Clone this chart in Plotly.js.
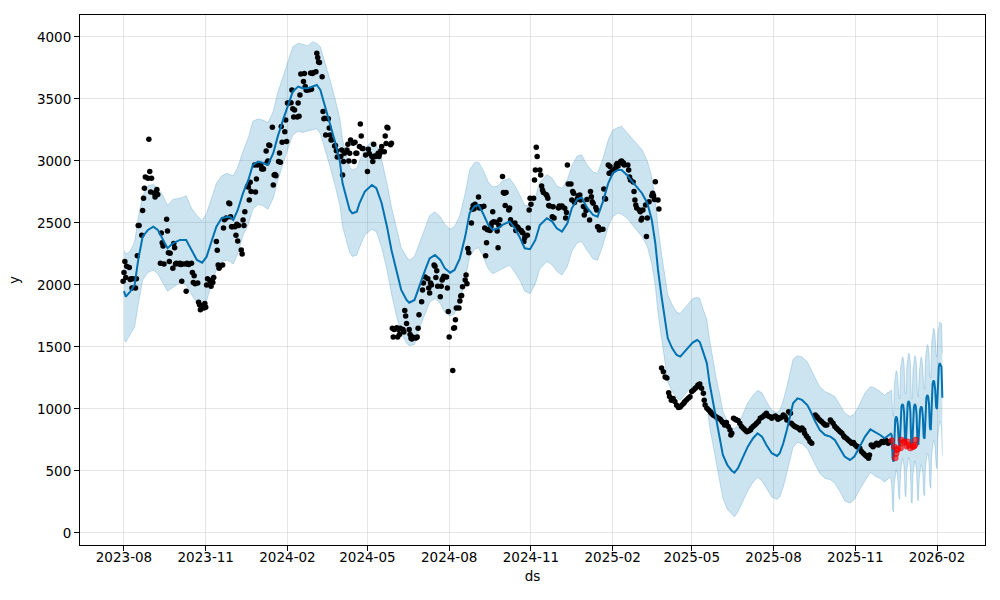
<!DOCTYPE html>
<html>
<head>
<meta charset="utf-8">
<script src="https://cdn.plot.ly/plotly-3.0.1.min.js"></script>
<style>html,body{margin:0;padding:0;background:#fff;}#chart{width:1000px;height:600px;}</style>
</head>
<body>
<div id="chart"></div>
<script>
// Observed history (black dots): [date, y]
const observed = [
["2023-07-31",2030],
["2023-08-01",2100],["2023-08-02",2190],["2023-08-03",2060],["2023-08-04",2150],["2023-08-07",2140],["2023-08-08",2045],["2023-08-09",2050],["2023-08-10",1975],["2023-08-11",2050],["2023-08-14",1975],["2023-08-15",2050],["2023-08-16",2235],["2023-08-17",2480],["2023-08-18",2480],["2023-08-21",2400],["2023-08-22",2600],["2023-08-23",2700],["2023-08-24",2780],["2023-08-25",2870],["2023-08-28",2860],["2023-08-29",3175],["2023-08-30",2915],["2023-08-31",2750],
["2023-09-01",2860],["2023-09-04",2740],["2023-09-05",2710],["2023-09-06",2750],["2023-09-07",2770],["2023-09-08",2730],["2023-09-11",2175],["2023-09-12",2420],["2023-09-13",2340],["2023-09-14",2315],["2023-09-15",2170],["2023-09-18",2530],["2023-09-19",2435],["2023-09-20",2260],["2023-09-21",2190],["2023-09-22",2255],["2023-09-25",2135],["2023-09-26",2335],["2023-09-27",2300],["2023-09-28",2170],["2023-09-29",2175],
["2023-10-02",2170],["2023-10-03",2175],["2023-10-04",2165],["2023-10-05",2030],["2023-10-06",2170],["2023-10-09",2170],["2023-10-10",1950],["2023-10-11",2175],["2023-10-12",2170],["2023-10-13",2165],["2023-10-16",2175],["2023-10-17",2100],["2023-10-18",2020],["2023-10-19",2075],["2023-10-20",2010],["2023-10-23",2015],["2023-10-24",1860],["2023-10-25",1840],["2023-10-26",1800],["2023-10-27",1830],["2023-10-30",1815],["2023-10-31",1850],
["2023-11-01",1820],["2023-11-02",2000],["2023-11-03",2050],["2023-11-06",2030],["2023-11-07",1990],["2023-11-08",2040],["2023-11-09",2020],["2023-11-10",2060],["2023-11-13",2350],["2023-11-14",2280],["2023-11-15",2160],["2023-11-16",2135],["2023-11-17",2150],["2023-11-20",2160],["2023-11-21",2460],["2023-11-22",2525],["2023-11-24",2540],["2023-11-27",2660],["2023-11-28",2655],["2023-11-29",2550],["2023-11-30",2470],
["2023-12-01",2470],["2023-12-04",2470],["2023-12-05",2400],["2023-12-06",2490],["2023-12-07",2355],["2023-12-08",2480],["2023-12-11",2282],["2023-12-12",2250],["2023-12-13",2524],["2023-12-14",2480],["2023-12-15",2591],["2023-12-18",2793],["2023-12-19",2790],["2023-12-20",2686],["2023-12-21",2828],["2023-12-22",2753],["2023-12-26",2968],["2023-12-27",2750],["2023-12-28",2855],["2023-12-29",2968],
["2024-01-02",2965],["2024-01-03",2935],["2024-01-04",2940],["2024-01-05",2935],["2024-01-08",3081],["2024-01-09",2985],["2024-01-10",3000],["2024-01-11",3129],["2024-01-12",3125],["2024-01-15",3272],["2024-01-16",2806],["2024-01-17",2887],["2024-01-18",2890],["2024-01-19",2880],["2024-01-22",2995],["2024-01-23",3064],["2024-01-24",2990],["2024-01-25",3277],["2024-01-26",3150],["2024-01-29",3236],["2024-01-30",3331],["2024-01-31",3156],
["2024-02-01",3468],["2024-02-02",3465],["2024-02-05",3470],["2024-02-06",3573],["2024-02-07",3420],["2024-02-08",3355],["2024-02-09",3411],["2024-02-12",3355],["2024-02-13",3468],["2024-02-14",3360],["2024-02-15",3532],["2024-02-16",3702],["2024-02-19",3640],["2024-02-20",3705],["2024-02-21",3600],["2024-02-22",3573],["2024-02-23",3570],["2024-02-26",3575],["2024-02-27",3710],["2024-02-28",3578],["2024-02-29",3705],
["2024-03-01",3712],["2024-03-04",3720],["2024-03-05",3868],["2024-03-06",3835],["2024-03-07",3798],["2024-03-08",3793],["2024-03-11",3680],["2024-03-12",3398],["2024-03-13",3341],["2024-03-14",3345],["2024-03-15",3210],["2024-03-18",3340],["2024-03-19",3266],["2024-03-20",3210],["2024-03-21",3169],["2024-03-22",3170],["2024-03-25",3121],["2024-03-26",3125],["2024-03-27",3083],["2024-03-28",3032],
["2024-04-01",3035],["2024-04-02",3089],["2024-04-03",2887],["2024-04-04",2995],["2024-04-05",3062],["2024-04-08",3089],["2024-04-09",3135],["2024-04-10",3000],["2024-04-11",3062],["2024-04-12",3169],["2024-04-15",3142],["2024-04-16",2995],["2024-04-17",3150],["2024-04-18",3062],["2024-04-19",3062],["2024-04-22",3116],["2024-04-23",3298],["2024-04-24",3202],["2024-04-25",3100],["2024-04-26",3100],["2024-04-29",3048],
["2024-05-01",2914],["2024-05-02",3095],["2024-05-03",3060],["2024-05-06",3035],["2024-05-07",2995],["2024-05-08",3135],["2024-05-09",3040],["2024-05-10",3035],["2024-05-13",3062],["2024-05-14",3035],["2024-05-15",3060],["2024-05-16",3083],["2024-05-17",3116],["2024-05-20",3075],["2024-05-21",3202],["2024-05-22",3140],["2024-05-23",3272],["2024-05-24",3265],["2024-05-27",3130],["2024-05-28",3142],["2024-05-29",1650],["2024-05-30",1580],["2024-05-31",1640],
["2024-06-03",1655],["2024-06-04",1580],["2024-06-05",1640],["2024-06-06",1600],["2024-06-07",1650],["2024-06-10",1640],["2024-06-11",1620],["2024-06-12",1795],["2024-06-13",1750],["2024-06-14",1690],["2024-06-17",1640],["2024-06-18",1600],["2024-06-19",1570],["2024-06-20",1565],["2024-06-21",1580],["2024-06-24",1572],["2024-06-25",1575],["2024-06-26",1580],["2024-06-27",1650],["2024-06-28",1760],
["2024-07-01",1865],["2024-07-02",1960],["2024-07-03",2015],["2024-07-05",2065],["2024-07-08",2050],["2024-07-09",1975],["2024-07-10",1935],["2024-07-11",2015],["2024-07-12",2000],["2024-07-15",2160],["2024-07-16",2150],["2024-07-17",2060],["2024-07-18",2115],["2024-07-19",1990],["2024-07-22",1905],["2024-07-23",1990],["2024-07-24",2040],["2024-07-25",2055],["2024-07-26",2070],["2024-07-29",2065],["2024-07-30",1975],["2024-07-31",1785],
["2024-08-01",1580],["2024-08-05",1310],["2024-08-06",1650],["2024-08-07",1655],["2024-08-08",1720],["2024-08-09",1815],["2024-08-12",1815],["2024-08-13",1870],["2024-08-14",1910],["2024-08-15",1915],["2024-08-16",1985],["2024-08-19",2040],["2024-08-20",2080],["2024-08-21",2010],["2024-08-22",2295],["2024-08-23",2260],["2024-08-26",2500],["2024-08-27",2610],["2024-08-28",2640],["2024-08-29",2615],["2024-08-30",2650],
["2024-09-03",2710],["2024-09-04",2620],["2024-09-05",2630],["2024-09-06",2625],["2024-09-09",2635],["2024-09-10",2460],["2024-09-11",2235],["2024-09-12",2340],["2024-09-13",2445],["2024-09-16",2440],["2024-09-17",2470],["2024-09-18",2500],["2024-09-19",2590],["2024-09-20",2510],["2024-09-23",2505],["2024-09-24",2435],["2024-09-25",2300],["2024-09-26",2480],["2024-09-27",2525],["2024-09-30",2875],
["2024-10-01",2745],["2024-10-02",2740],["2024-10-03",2640],["2024-10-04",2745],["2024-10-07",2605],["2024-10-08",2620],["2024-10-09",2525],["2024-10-10",2500],["2024-10-11",2490],["2024-10-14",2500],["2024-10-15",2440],["2024-10-16",2470],["2024-10-17",2465],["2024-10-18",2455],["2024-10-21",2440],["2024-10-22",2425],["2024-10-23",2420],["2024-10-24",2350],["2024-10-25",2380],["2024-10-28",2400],["2024-10-29",2460],["2024-10-30",2605],["2024-10-31",2700],
["2024-11-01",2650],["2024-11-04",2700],["2024-11-05",2847],["2024-11-06",2927],["2024-11-07",3110],["2024-11-08",3035],["2024-11-11",2927],["2024-11-12",2887],["2024-11-13",2798],["2024-11-14",2765],["2024-11-15",2745],["2024-11-18",2730],["2024-11-19",2720],["2024-11-20",2700],["2024-11-21",2640],["2024-11-22",2637],["2024-11-25",2550],["2024-11-26",2630],["2024-11-27",2540],
["2024-12-02",2620],["2024-12-03",2637],["2024-12-05",2630],["2024-12-06",2637],["2024-12-09",2618],["2024-12-10",2540],["2024-12-11",2585],["2024-12-12",2968],["2024-12-13",2815],["2024-12-16",2815],["2024-12-17",2686],["2024-12-18",2753],["2024-12-19",2740],["2024-12-20",2665],["2024-12-23",2692],["2024-12-24",2720],["2024-12-26",2726],["2024-12-27",2686],["2024-12-30",2632],["2024-12-31",2564],
["2025-01-02",2600],["2025-01-03",2690],["2025-01-06",2524],["2025-01-07",2753],["2025-01-08",2712],["2025-01-09",2672],["2025-01-10",2659],["2025-01-13",2624],["2025-01-14",2605],["2025-01-15",2470],["2025-01-16",2465],["2025-01-17",2444],["2025-01-21",2450],["2025-01-22",2774],["2025-01-23",2700],["2025-01-24",2693],["2025-01-27",2968],["2025-01-28",2900],["2025-01-29",2955],["2025-01-30",2900],["2025-01-31",2914],
["2025-02-03",2930],["2025-02-04",2940],["2025-02-05",2968],["2025-02-06",2980],["2025-02-07",2960],["2025-02-10",2995],["2025-02-11",3000],["2025-02-12",2980],["2025-02-13",2985],["2025-02-14",2968],["2025-02-18",2968],["2025-02-19",2927],["2025-02-20",2870],["2025-02-21",2847],["2025-02-24",2830],["2025-02-25",2753],["2025-02-26",2686],["2025-02-27",2645],["2025-02-28",2620],
["2025-03-03",2605],["2025-03-04",2590],["2025-03-05",2524],["2025-03-06",2537],["2025-03-07",2605],["2025-03-10",2645],["2025-03-11",2390],["2025-03-12",2540],["2025-03-14",2672],["2025-03-17",2720],["2025-03-18",2740],["2025-03-19",2720],["2025-03-20",2690],["2025-03-21",2833],["2025-03-24",2686],["2025-03-25",2613],["2025-03-28",1330],["2025-03-30",1300],
["2025-04-01",1258],["2025-04-03",1250],["2025-04-05",1130],["2025-04-06",1100],["2025-04-08",1070],["2025-04-10",1085],["2025-04-12",1060],["2025-04-14",1030],["2025-04-16",1012],["2025-04-18",1015],["2025-04-20",1032],["2025-04-22",1046],["2025-04-23",1059],["2025-04-25",1073],["2025-04-27",1086],["2025-04-29",1099],
["2025-05-01",1140],["2025-05-03",1153],["2025-05-05",1167],["2025-05-07",1180],["2025-05-08",1194],["2025-05-10",1202],["2025-05-12",1167],["2025-05-14",1126],["2025-05-15",1070],["2025-05-16",1032],["2025-05-18",1005],["2025-05-20",992],["2025-05-22",978],["2025-05-23",965],["2025-05-25",952],["2025-05-27",944],["2025-05-29",933],["2025-05-31",925],
["2025-06-02",917],["2025-06-04",898],["2025-06-05",890],["2025-06-07",871],["2025-06-09",890],["2025-06-11",858],["2025-06-13",831],["2025-06-14",790],["2025-06-15",804],["2025-06-17",925],["2025-06-19",917],["2025-06-20",911],["2025-06-22",906],["2025-06-24",884],["2025-06-26",858],["2025-06-28",844],["2025-06-30",831],
["2025-07-02",817],["2025-07-04",823],["2025-07-06",831],["2025-07-07",844],["2025-07-09",858],["2025-07-11",871],["2025-07-13",884],["2025-07-15",898],["2025-07-17",925],["2025-07-19",933],["2025-07-21",944],["2025-07-22",952],["2025-07-24",965],["2025-07-26",944],["2025-07-28",938],["2025-07-30",925],["2025-07-31",933],
["2025-08-03",944],["2025-08-05",933],["2025-08-06",917],["2025-08-08",925],["2025-08-10",933],["2025-08-12",952],["2025-08-14",938],["2025-08-16",911],["2025-08-18",978],["2025-08-20",965],["2025-08-21",884],["2025-08-23",871],["2025-08-25",858],["2025-08-27",852],["2025-08-29",844],["2025-08-31",831],
["2025-09-02",847],["2025-09-04",831],["2025-09-05",804],["2025-09-07",782],["2025-09-09",763],["2025-09-11",737],["2025-09-13",723],["2025-09-17",952],["2025-09-19",938],["2025-09-20",925],["2025-09-22",911],["2025-09-24",898],["2025-09-26",884],["2025-09-28",871],["2025-09-30",871],
["2025-10-04",911],["2025-10-05",898],["2025-10-07",884],["2025-10-09",858],["2025-10-11",844],["2025-10-13",831],["2025-10-15",817],["2025-10-17",804],["2025-10-19",782],["2025-10-20",772],["2025-10-22",763],["2025-10-24",750],["2025-10-26",737],["2025-10-28",723],["2025-10-30",729],
["2025-11-01",710],["2025-11-03",696],["2025-11-04",696],["2025-11-06",683],["2025-11-08",656],["2025-11-10",643],["2025-11-12",629],["2025-11-14",616],["2025-11-16",602],["2025-11-17",629],["2025-11-19",710],["2025-11-21",696],["2025-11-23",710],["2025-11-25",723],["2025-11-27",710],["2025-11-29",723],
["2025-12-01",737],["2025-12-03",729],["2025-12-05",750],["2025-12-06",737],["2025-12-08",723],["2025-12-10",737]
];

// Held-out actuals (red dots): [date, y]
const actualTest = [
["2025-12-12",745],["2025-12-15",695],["2025-12-16",605],["2025-12-17",640],["2025-12-18",670],["2025-12-19",680],["2025-12-22",685],["2025-12-23",750],["2025-12-24",725],["2025-12-26",735],["2025-12-29",700],["2025-12-30",735],["2025-12-31",710],["2026-01-02",685],["2026-01-05",695],["2026-01-06",700],["2026-01-07",710],["2026-01-08",750]
];

// Forecast: [date, yhat, yhat_lower, yhat_upper]
const forecast = [
["2023-08-01",1950,1560,2280],["2023-08-03",1906,1540,2250],["2023-08-08",1946,1600,2270],["2023-08-13",2000,1660,2350],["2023-08-17",2202,1840,2540],["2023-08-22",2390,2040,2720],["2023-08-28",2444,2100,2800],
["2023-09-03",2470,2120,2810],["2023-09-08",2444,2090,2780],["2023-09-14",2363,2010,2720],["2023-09-19",2296,1950,2640],["2023-09-25",2336,1980,2690],
["2023-10-03",2363,2020,2700],["2023-10-10",2363,2000,2720],["2023-10-16",2282,1930,2620],["2023-10-22",2202,1850,2560],["2023-10-28",2180,1830,2520],
["2023-11-02",2228,1870,2580],["2023-11-08",2363,2020,2710],["2023-11-13",2470,2120,2820],["2023-11-19",2540,2190,2880],["2023-11-25",2545,2200,2900],["2023-11-28",2551,2190,2890],
["2023-12-02",2524,2170,2880],["2023-12-07",2605,2250,2950],["2023-12-13",2740,2400,3080],["2023-12-19",2847,2490,3190],["2023-12-24",2968,2610,3320],["2023-12-30",2995,2650,3340],
["2024-01-04",2985,2640,3330],["2024-01-10",2968,2610,3310],["2024-01-16",3062,2700,3400],["2024-01-21",3196,2840,3550],["2024-01-27",3331,2980,3680],
["2024-02-02",3465,3110,3820],["2024-02-07",3559,3210,3920],["2024-02-13",3600,3240,3950],["2024-02-18",3586,3230,3940],["2024-02-24",3586,3240,3930],["2024-02-29",3600,3250,3960],
["2024-03-05",3613,3260,3950],["2024-03-09",3573,3220,3920],["2024-03-14",3452,3100,3800],["2024-03-20",3304,2950,3650],["2024-03-26",3142,2790,3490],["2024-03-31",2995,2640,3340],
["2024-04-03",2820,2470,3170],["2024-04-08",2686,2330,3030],["2024-04-11",2605,2260,2950],["2024-04-14",2578,2230,2930],["2024-04-19",2591,2240,2940],["2024-04-22",2659,2300,3000],["2024-04-28",2753,2400,3100],
["2024-05-06",2806,2450,3160],["2024-05-11",2780,2430,3130],["2024-05-17",2659,2300,3010],["2024-05-23",2470,2120,2820],["2024-05-28",2282,1930,2630],
["2024-06-03",2094,1740,2450],["2024-06-08",1960,1610,2300],["2024-06-14",1879,1530,2230],["2024-06-17",1857,1510,2200],["2024-06-23",1879,1520,2230],["2024-06-28",1986,1640,2330],
["2024-07-05",2121,1770,2470],["2024-07-10",2215,1860,2560],["2024-07-16",2242,1890,2590],["2024-07-22",2202,1850,2550],["2024-07-27",2135,1780,2490],
["2024-08-02",2099,1750,2450],["2024-08-07",2121,1770,2470],["2024-08-13",2215,1870,2560],["2024-08-19",2390,2040,2740],["2024-08-24",2580,2230,2930],["2024-08-30",2637,2290,2990],
["2024-09-03",2645,2300,2990],["2024-09-08",2578,2230,2930],["2024-09-14",2484,2130,2830],["2024-09-19",2444,2090,2790],["2024-09-25",2457,2110,2800],["2024-09-30",2484,2130,2840],
["2024-10-08",2511,2160,2860],["2024-10-14",2457,2100,2800],["2024-10-20",2376,2030,2720],["2024-10-25",2296,1950,2640],["2024-10-31",2288,1930,2640],
["2024-11-06",2363,2010,2710],["2024-11-11",2484,2130,2830],["2024-11-19",2538,2190,2890],["2024-11-25",2511,2160,2860],["2024-11-30",2457,2110,2800],
["2024-12-06",2430,2080,2780],["2024-12-12",2497,2150,2850],["2024-12-17",2618,2270,2960],["2024-12-23",2691,2340,3040],["2024-12-28",2705,2350,3050],
["2025-01-03",2625,2280,2970],["2025-01-10",2564,2210,2910],["2025-01-15",2551,2200,2900],["2025-01-21",2672,2320,3020],["2025-01-27",2820,2470,3170],
["2025-02-01",2901,2550,3250],["2025-02-07",2927,2580,3270],["2025-02-11",2927,2570,3280],["2025-02-17",2887,2540,3230],["2025-02-23",2833,2480,3180],["2025-02-28",2793,2440,3140],
["2025-03-06",2740,2390,3090],["2025-03-12",2659,2310,3000],["2025-03-17",2524,2170,2870],["2025-03-21",2336,1990,2690],["2025-03-24",2121,1770,2470],["2025-03-28",1906,1560,2250],
["2025-04-01",1718,1370,2070],["2025-04-04",1570,1220,1920],["2025-04-09",1489,1140,1840],["2025-04-14",1435,1090,1780],["2025-04-18",1422,1070,1770],["2025-04-23",1462,1110,1810],["2025-04-27",1500,1150,1850],
["2025-05-02",1535,1180,1890],["2025-05-07",1556,1200,1900],["2025-05-10",1540,1190,1890],["2025-05-13",1476,1120,1820],["2025-05-18",1368,1020,1720],["2025-05-21",1207,860,1560],["2025-05-25",1046,700,1390],["2025-05-29",884,530,1230],
["2025-06-02",750,400,1100],["2025-06-05",629,280,980],["2025-06-10",548,190,900],["2025-06-15",502,150,850],["2025-06-18",486,130,840],["2025-06-22",522,170,870],["2025-06-27",602,250,950],
["2025-07-03",696,340,1050],["2025-07-09",764,410,1110],["2025-07-14",804,450,1150],["2025-07-19",777,420,1130],["2025-07-24",710,360,1060],["2025-07-30",643,290,990],
["2025-08-05",621,270,970],["2025-08-08",643,290,990],["2025-08-12",723,370,1070],["2025-08-16",831,480,1180],["2025-08-20",952,600,1300],["2025-08-23",1046,690,1400],["2025-08-28",1086,730,1430],
["2025-09-02",1073,720,1420],["2025-09-08",1032,680,1380],["2025-09-11",992,640,1340],["2025-09-17",898,550,1250],["2025-09-22",831,480,1180],["2025-09-28",790,440,1140],
["2025-10-04",777,430,1120],["2025-10-09",750,400,1100],["2025-10-15",683,330,1030],["2025-10-20",616,260,970],["2025-10-26",589,240,940],["2025-10-31",616,270,960],
["2025-11-06",696,350,1040],["2025-11-12",777,420,1130],["2025-11-18",836,490,1180],["2025-11-23",817,460,1170],["2025-11-29",790,440,1140],
["2025-12-04",764,410,1110],["2025-12-07",782,430,1130],["2025-12-10",795,450,1140],["2025-12-11",800,440,1150],
["2025-12-12",790,380,1150],["2025-12-13",600,190,960],["2025-12-14",575,170,940],
["2025-12-15",830,400,1200],["2025-12-16",915,490,1290],["2025-12-17",940,510,1310],["2025-12-18",925,490,1300],["2025-12-19",860,420,1230],["2025-12-20",720,290,1090],["2025-12-21",700,270,1080],
["2025-12-22",950,500,1330],["2025-12-23",1020,580,1400],["2025-12-24",1040,600,1420],["2025-12-25",1030,580,1410],["2025-12-26",970,530,1350],["2025-12-27",750,310,1130],["2025-12-28",735,290,1120],
["2025-12-29",950,500,1340],["2025-12-30",1040,590,1430],["2025-12-31",1065,610,1450],["2026-01-01",1050,590,1440],["2026-01-02",980,520,1370],["2026-01-03",705,250,1090],["2026-01-04",690,240,1080],
["2026-01-05",925,470,1320],["2026-01-06",1015,560,1400],["2026-01-07",1040,580,1430],["2026-01-08",1025,560,1420],["2026-01-09",960,500,1350],["2026-01-10",725,270,1120],["2026-01-11",710,260,1100],
["2026-01-12",905,440,1300],["2026-01-13",995,530,1390],["2026-01-14",1020,550,1420],["2026-01-15",1010,540,1400],["2026-01-16",945,480,1340],["2026-01-17",775,310,1170],["2026-01-18",760,300,1160],
["2026-01-19",1000,530,1410],["2026-01-20",1090,620,1500],["2026-01-21",1113,640,1520],["2026-01-22",1100,630,1510],["2026-01-23",1040,570,1450],["2026-01-24",850,380,1260],["2026-01-25",830,360,1250],
["2026-01-26",1110,630,1530],["2026-01-27",1200,720,1620],["2026-01-28",1230,750,1650],["2026-01-29",1215,740,1640],["2026-01-30",1150,680,1570],["2026-01-31",1015,540,1440],["2026-02-01",1000,520,1420],
["2026-02-02",1250,780,1620],["2026-02-03",1340,870,1680],["2026-02-04",1370,900,1700],["2026-02-05",1360,890,1690],["2026-02-06",1340,860,1690],["2026-02-07",1090,620,1450]
];

const yTicks = [0, 500, 1000, 1500, 2000, 2500, 3000, 3500, 4000];
const xTickDates = ["2023-08-01","2023-11-01","2024-02-01","2024-05-01","2024-08-01","2024-11-01","2025-02-01","2025-05-01","2025-08-01","2025-11-01","2026-02-01"];
const xTickLabels = ["2023-08","2023-11","2024-02","2024-05","2024-08","2024-11","2025-02","2025-05","2025-08","2025-11","2026-02"];

const fcX = forecast.map(r => r[0]);
const BAND = 'rgba(0,114,178,0.2)';

const traces = [
  {x: fcX, y: forecast.map(r => r[3]), type: 'scatter', mode: 'lines',
   line: {color: BAND, width: 1}, hoverinfo: 'skip'},
  {x: fcX, y: forecast.map(r => r[2]), type: 'scatter', mode: 'lines',
   line: {color: BAND, width: 1}, fill: 'tonexty', fillcolor: BAND, hoverinfo: 'skip'},
  {x: observed.map(r => r[0]), y: observed.map(r => r[1]), type: 'scatter', mode: 'markers',
   marker: {color: '#000000', size: 5.5}},
  {x: fcX, y: forecast.map(r => r[1]), type: 'scatter', mode: 'lines',
   line: {color: '#0072B2', width: 2}},
  {x: actualTest.map(r => r[0]), y: actualTest.map(r => r[1]), type: 'scatter', mode: 'markers',
   marker: {color: 'rgba(255,0,0,0.65)', size: 6, line: {color: 'rgba(220,0,0,0.8)', width: 0.5}}}
];

const font = {family: 'DejaVu Sans, sans-serif', size: 13.5, color: '#000'};
const layout = {
  width: 1000, height: 600,
  margin: {l: 80, r: 15, t: 15, b: 55},
  paper_bgcolor: '#ffffff', plot_bgcolor: '#ffffff',
  showlegend: false, hovermode: false,
  font: font,
  xaxis: {
    type: 'date', range: ['2023-06-12 12:00', '2026-03-27'],
    tickvals: xTickDates, ticktext: xTickLabels,
    showgrid: true, gridcolor: 'rgba(128,128,128,0.2)', gridwidth: 1,
    zeroline: false, showline: true, linecolor: '#000', linewidth: 1, mirror: true,
    ticks: 'outside', ticklen: 5, tickwidth: 1, tickcolor: '#000',
    ticklabelstandoff: -5,
    tickfont: font,
    title: {text: 'ds', font: font, standoff: 7},
    automargin: false
  },
  yaxis: {
    range: [-97, 4177], tickvals: yTicks, ticktext: yTicks.map(String),
    showgrid: true, gridcolor: 'rgba(128,128,128,0.2)', gridwidth: 1,
    zeroline: false, showline: true, linecolor: '#000', linewidth: 1, mirror: true,
    ticks: 'outside', ticklen: 5, tickwidth: 1, tickcolor: '#000',
    tickfont: font,
    title: {text: 'y', font: font, standoff: 14},
    automargin: false
  }
};

Plotly.newPlot('chart', traces, layout, {displayModeBar: false, staticPlot: true});
</script>
</body>
</html>
